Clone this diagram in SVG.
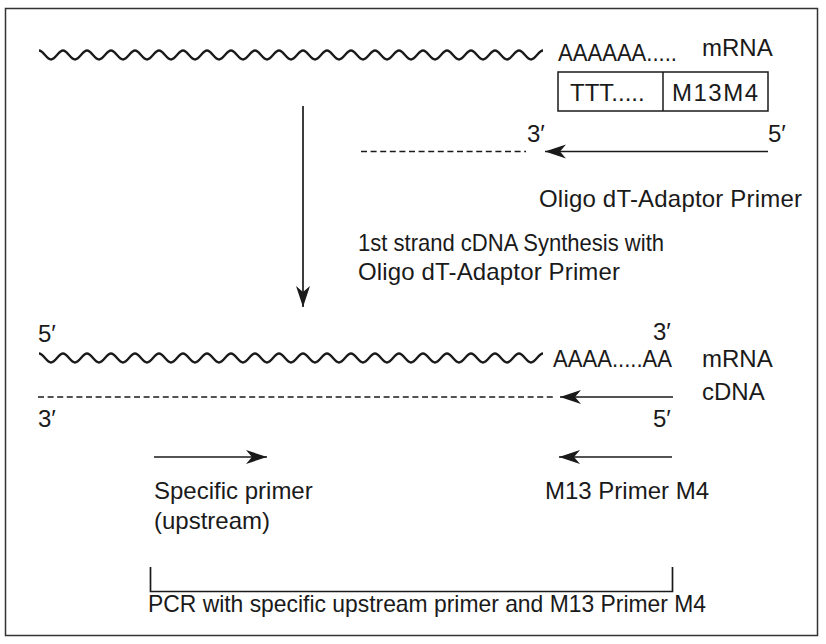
<svg xmlns="http://www.w3.org/2000/svg" width="826" height="644" viewBox="0 0 826 644">
<defs>
<style>
text{font-family:"Liberation Sans","DejaVu Sans",Arial,sans-serif;font-size:24px;fill:#1a1a1a}
.wave{fill:none;stroke:#1a1a1a;stroke-width:2.3}
.ln{fill:none;stroke:#1a1a1a;stroke-width:1.7}
.dash{fill:none;stroke:#1a1a1a;stroke-width:1.6;stroke-dasharray:6 3.6}
.box{fill:#fff;stroke:#1a1a1a;stroke-width:1.5}
</style>
<marker id="ah" markerUnits="userSpaceOnUse" viewBox="-22 -8 24 16" refX="0" refY="0" markerWidth="24" markerHeight="16" orient="auto">
<path d="M0,0 L-21,-7 L-15,0 L-21,7 Z" fill="#1a1a1a"/>
</marker>
</defs>
<rect x="5.5" y="8.5" width="812" height="627" fill="#fff" stroke="#333" stroke-width="1.5"/>

<g id="top-mrna">
<path class="wave" d="M39,50.5 c4.4,0 7.6,9 12,9 s7.6,-9 12,-9 s7.6,9 12,9 s7.6,-9 12,-9 s7.6,9 12,9 s7.6,-9 12,-9 s7.6,9 12,9 s7.6,-9 12,-9 s7.6,9 12,9 s7.6,-9 12,-9 s7.6,9 12,9 s7.6,-9 12,-9 s7.6,9 12,9 s7.6,-9 12,-9 s7.6,9 12,9 s7.6,-9 12,-9 s7.6,9 12,9 s7.6,-9 12,-9 s7.6,9 12,9 s7.6,-9 12,-9 s7.6,9 12,9 s7.6,-9 12,-9 s7.6,9 12,9 s7.6,-9 12,-9 s7.6,9 12,9 s7.6,-9 12,-9 s7.6,9 12,9 s7.6,-9 12,-9 s7.6,9 12,9 s7.6,-9 12,-9 s7.6,9 12,9 s7.6,-9 12,-9 s7.6,9 12,9 s7.6,-9 12,-9 s7.6,9 12,9 s7.6,-9 12,-9 s7.6,9 12,9 s7.6,-9 12,-9 s7.6,9 12,9 s7.6,-9 12,-9 s7.6,9 12,9 s7.6,-9 12,-9"/>
<text x="558" y="61" textLength="119" lengthAdjust="spacingAndGlyphs">AAAAAA.....</text>
<text x="702" y="56">mRNA</text>
</g>

<g id="primer-box">
<rect class="box" x="558" y="72" width="210" height="39"/>
<line class="box" x1="663" y1="72" x2="663" y2="111"/>
<text x="570" y="101">TTT.....</text>
<text x="672" y="101" textLength="86">M13M4</text>
</g>

<g id="oligo-primer">
<text x="527" y="142">3′</text>
<text x="768" y="142">5′</text>
<text x="539" y="207" textLength="263">Oligo dT-Adaptor Primer</text>
</g>

<g id="step-label">
<text x="358" y="251" textLength="306" lengthAdjust="spacingAndGlyphs">1st strand cDNA Synthesis with</text>
<text x="358" y="280" textLength="262">Oligo dT-Adaptor Primer</text>
</g>

<g id="bottom-mrna">
<text x="38" y="342">5′</text>
<text x="653" y="340">3′</text>
<path class="wave" d="M39,353.5 c4.4,0 7.6,9 12,9 s7.6,-9 12,-9 s7.6,9 12,9 s7.6,-9 12,-9 s7.6,9 12,9 s7.6,-9 12,-9 s7.6,9 12,9 s7.6,-9 12,-9 s7.6,9 12,9 s7.6,-9 12,-9 s7.6,9 12,9 s7.6,-9 12,-9 s7.6,9 12,9 s7.6,-9 12,-9 s7.6,9 12,9 s7.6,-9 12,-9 s7.6,9 12,9 s7.6,-9 12,-9 s7.6,9 12,9 s7.6,-9 12,-9 s7.6,9 12,9 s7.6,-9 12,-9 s7.6,9 12,9 s7.6,-9 12,-9 s7.6,9 12,9 s7.6,-9 12,-9 s7.6,9 12,9 s7.6,-9 12,-9 s7.6,9 12,9 s7.6,-9 12,-9 s7.6,9 12,9 s7.6,-9 12,-9 s7.6,9 12,9 s7.6,-9 12,-9 s7.6,9 12,9 s7.6,-9 12,-9 s7.6,9 12,9 s7.6,-9 12,-9 s7.6,9 12,9 s7.6,-9 12,-9 s7.6,9 12,9 s7.6,-9 12,-9"/>
<text x="553" y="367" textLength="119" lengthAdjust="spacingAndGlyphs">AAAA.....AA</text>
<text x="702" y="367">mRNA</text>
</g>

<g id="bottom-cdna">
<text x="702" y="400">cDNA</text>
<text x="38" y="427">3′</text>
<text x="653" y="427">5′</text>
</g>

<g id="specific-primer">
<text x="154" y="499">Specific primer</text>
<text x="154" y="529">(upstream)</text>
</g>

<g id="m13-primer">
<text x="545" y="499">M13 Primer M4</text>
</g>

<g id="pcr">
<text x="148" y="612" textLength="558" lengthAdjust="spacingAndGlyphs">PCR with specific upstream primer and M13 Primer M4</text>
</g>

<g id="connectors">
<line class="ln" x1="303" y1="106" x2="303" y2="307" marker-end="url(#ah)"/>
<line class="dash" x1="361" y1="151.5" x2="526" y2="151.5"/>
<line class="ln" x1="768" y1="151.5" x2="545" y2="151.5" marker-end="url(#ah)"/>
<line class="dash" x1="38" y1="397" x2="553" y2="397"/>
<line class="ln" x1="673" y1="397" x2="560" y2="397" marker-end="url(#ah)"/>
<line class="ln" x1="154" y1="457" x2="267" y2="457" marker-end="url(#ah)"/>
<line class="ln" x1="672" y1="457" x2="559" y2="457" marker-end="url(#ah)"/>
<path class="ln" d="M150.5,567 V591.5 H672.5 V567"/>
</g>
</svg>
